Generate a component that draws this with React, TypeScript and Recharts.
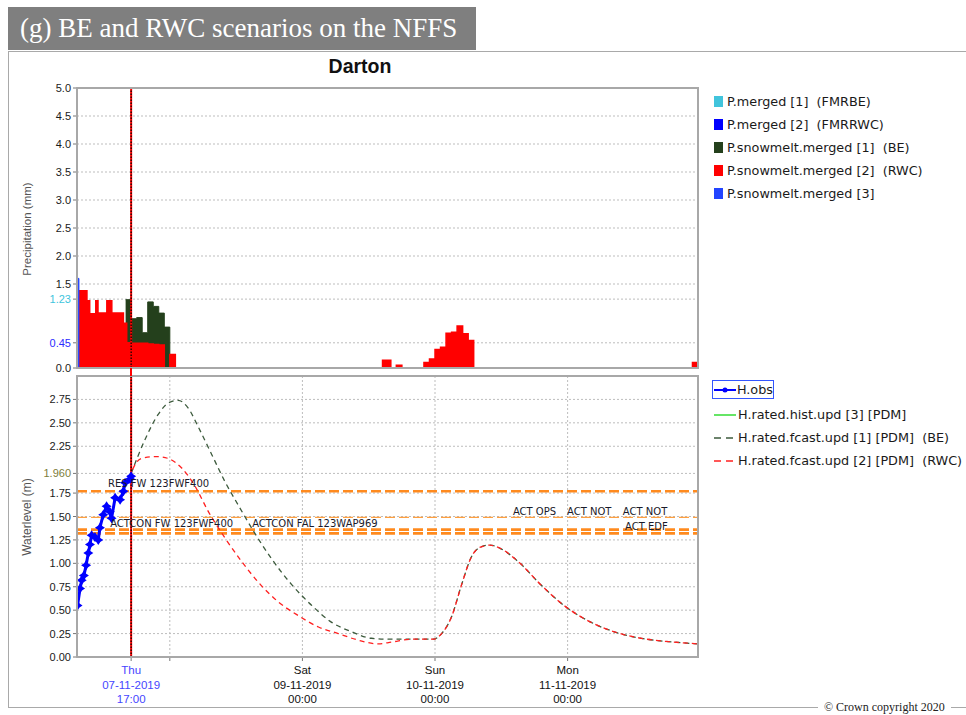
import React from "react";
import {
  Area,
  CartesianGrid,
  ComposedChart,
  Line,
  LineChart,
  ReferenceDot,
  ReferenceLine,
  XAxis,
  YAxis
} from "recharts";

// time axis: hours counted from Thu 07-11-2019 07:00
const xDomain = [0.2, 112.6];
const forecastStart = 10;
const xTickHours = [10, 17, 41, 65, 89];
const xTickDay = ["Thu", "", "Sat", "Sun", "Mon"];
const xTickDate = ["07-11-2019", "", "09-11-2019", "10-11-2019", "11-11-2019"];
const xTickTime = ["17:00", "", "00:00", "00:00", "00:00"];

const precipTicks = [0, 0.45, 1.23, 1.5, 2, 2.5, 3, 3.5, 4, 4.5, 5];
const levelTicks = [0, 0.25, 0.5, 0.75, 1, 1.25, 1.5, 1.75, 1.96, 2.25, 2.5, 2.75];

// precipitation (mm), step series
const snowmelt3 = [
  { h: 0.2, v: 1.6 },
  { h: 0.55, v: 0 }
];
const snowmeltBE = [
  { h: 9.0, v: 1.22 },
  { h: 10, v: 0.88 },
  { h: 11, v: 0.9 },
  { h: 12, v: 0.63 },
  { h: 13, v: 1.18 },
  { h: 14, v: 1.1 },
  { h: 15, v: 0.98 },
  { h: 16, v: 0.73 },
  { h: 17, v: 0 }
];
const snowmeltRWC = [
  { h: 0.55, v: 1.38 },
  { h: 2.0, v: 1.2 },
  { h: 2.5, v: 0.97 },
  { h: 3.6, v: 1.2 },
  { h: 4.0, v: 0.98 },
  { h: 5.6, v: 1.2 },
  { h: 6.5, v: 0.98 },
  { h: 8.6, v: 0.8 },
  { h: 9.2, v: 0.45 },
  { h: 10, v: 0.44 },
  { h: 11, v: 0.44 },
  { h: 12, v: 0.44 },
  { h: 13, v: 0.43 },
  { h: 14, v: 0.42 },
  { h: 15, v: 0.41 },
  { h: 16, v: 0 },
  { h: 17, v: 0.24 },
  { h: 18, v: 0 },
  { h: 55.5, v: 0.14 },
  { h: 57, v: 0 },
  { h: 58, v: 0.05 },
  { h: 59, v: 0 },
  { h: 63, v: 0.1 },
  { h: 64, v: 0.16 },
  { h: 65, v: 0.33 },
  { h: 66, v: 0.37 },
  { h: 67, v: 0.62 },
  { h: 68, v: 0.64 },
  { h: 69, v: 0.75 },
  { h: 70, v: 0.61 },
  { h: 71, v: 0.49 },
  { h: 72, v: 0 },
  { h: 111.6, v: 0.1 },
  { h: 112.6, v: 0.1 }
];

// water level (m)
const hObs = [
  { h: 0.3, v: 0.55 },
  { h: 0.75, v: 0.73 },
  { h: 1.05, v: 0.82 },
  { h: 1.45, v: 0.87 },
  { h: 1.85, v: 0.98 },
  { h: 2.25, v: 1.11 },
  { h: 2.55, v: 1.2 },
  { h: 2.85, v: 1.3 },
  { h: 3.45, v: 1.28 },
  { h: 4.05, v: 1.25 },
  { h: 4.35, v: 1.38 },
  { h: 4.95, v: 1.52 },
  { h: 5.55, v: 1.61 },
  { h: 6.15, v: 1.55 },
  { h: 6.45, v: 1.48 },
  { h: 7.1, v: 1.7 },
  { h: 8.0, v: 1.68 },
  { h: 8.6, v: 1.77 },
  { h: 8.9, v: 1.86 },
  { h: 9.8, v: 1.9 },
  { h: 10, v: 1.93 }
];
const fcastTail = [
  { h: 66.2, v: 0.25 },
  { h: 68, v: 0.43 },
  { h: 69.8, v: 0.77 },
  { h: 71.6, v: 1.07 },
  { h: 73.1, v: 1.17 },
  { h: 74.9, v: 1.195 },
  { h: 76.8, v: 1.16 },
  { h: 80.4, v: 1.0 },
  { h: 84, v: 0.78 },
  { h: 88.8, v: 0.53 },
  { h: 93.6, v: 0.36 },
  { h: 98.5, v: 0.25 },
  { h: 103.3, v: 0.19 },
  { h: 108.1, v: 0.16 },
  { h: 112.6, v: 0.14 }
];
const fcastBE = [
  { h: 10, v: 1.96 },
  { h: 12.5, v: 2.32 },
  { h: 14.9, v: 2.59 },
  { h: 16.7, v: 2.71 },
  { h: 18.5, v: 2.74 },
  { h: 20.3, v: 2.66 },
  { h: 22.2, v: 2.45 },
  { h: 24.6, v: 2.16 },
  { h: 27, v: 1.87 },
  { h: 29.4, v: 1.62 },
  { h: 32.4, v: 1.32 },
  { h: 35.4, v: 1.05 },
  { h: 39.1, v: 0.77 },
  { h: 42.7, v: 0.55 },
  { h: 46.3, v: 0.37 },
  { h: 49.9, v: 0.27 },
  { h: 53.5, v: 0.2 },
  { h: 57.2, v: 0.19 },
  { h: 60.8, v: 0.19 },
  { h: 64.7, v: 0.19 },
  ...fcastTail
];
const fcastRWC = [
  ...hObs.slice(0, -1),
  { h: 10, v: 1.96 },
  { h: 11.9, v: 2.12 },
  { h: 14.6, v: 2.14 },
  { h: 16.7, v: 2.12 },
  { h: 19.1, v: 2.02 },
  { h: 21.6, v: 1.82 },
  { h: 24, v: 1.55 },
  { h: 27, v: 1.27 },
  { h: 30, v: 1.02 },
  { h: 33, v: 0.8 },
  { h: 36.6, v: 0.59 },
  { h: 40.3, v: 0.44 },
  { h: 43.9, v: 0.32 },
  { h: 47.5, v: 0.25 },
  { h: 51.1, v: 0.18 },
  { h: 54.7, v: 0.14 },
  { h: 57.2, v: 0.16 },
  { h: 60.8, v: 0.19 },
  { h: 64.7, v: 0.19 },
  ...fcastTail
];

const thresholdLevels = [1.77, 1.49, 1.36, 1.32];
const thresholdNames = [
  "RES FW 123FWF400",
  "ACTCON FW 123FWF400",
  "ACTCON FAL 123WAP969",
  "ACT OPS",
  "ACT NOT",
  "ACT NOT",
  "ACT EDF"
];
const thresholdNameHours = [5.8, 6.2, 31.9, 79.1, 88.9, 99, 99.4];
const thresholdNameLevels = [1.85, 1.43, 1.43, 1.55, 1.55, 1.55, 1.39];

const precipLegend = [
  { name: "P.merged [1]  (FMRBE)", color: "#41c4dc" },
  { name: "P.merged [2]  (FMRRWC)", color: "#0000ff" },
  { name: "P.snowmelt.merged [1]  (BE)", color: "#24401c" },
  { name: "P.snowmelt.merged [2]  (RWC)", color: "#ff0000" },
  { name: "P.snowmelt.merged [3]", color: "#2244ff" }
];

const tickFont = "'Liberation Sans', Arial, sans-serif";
const legendFont = "'DejaVu Sans', Verdana, sans-serif";

function PrecipTick(props: any) {
  const { x, y, payload } = props;
  const v = payload.value;
  let fill = "#1a1a1a";
  let label = v.toFixed(1);
  if (v === 0.45) {
    fill = "#2b2bff";
    label = "0.45";
  }
  if (v === 1.23) {
    fill = "#3ec5dd";
    label = "1.23";
  }
  return (
    <text x={x} y={y} dy={4} textAnchor="end" fontSize={11} fontFamily={tickFont} fill={fill}>
      {label}
    </text>
  );
}

function LevelTick(props: any) {
  const { x, y, payload } = props;
  const v = payload.value;
  const special = v === 1.96;
  return (
    <text
      x={x}
      y={y}
      dy={4}
      textAnchor="end"
      fontSize={11}
      fontFamily={tickFont}
      fill={special ? "#7d7d3a" : "#1a1a1a"}
    >
      {special ? "1.960" : v.toFixed(2)}
    </text>
  );
}

function TimeTick(props: any) {
  const { x, y, payload } = props;
  const i = xTickHours.indexOf(payload.value);
  if (i < 0 || !xTickDay[i]) return <g />;
  const fill = payload.value === forecastStart ? "#4646ff" : "#111";
  return (
    <text x={x} y={y} textAnchor="middle" fontSize={11.5} fontFamily={tickFont} fill={fill}>
      <tspan x={x} dy={11}>{xTickDay[i]}</tspan>
      <tspan x={x} dy={14.5}>{xTickDate[i]}</tspan>
      <tspan x={x} dy={14.5}>{xTickTime[i]}</tspan>
    </text>
  );
}

function StarDot(props: any) {
  const { cx, cy } = props;
  if (cx == null || cy == null) return null;
  const a = 5;
  const b = 2;
  return (
    <path
      d={`M${cx},${cy - a}L${cx + b},${cy - b}L${cx + a},${cy}L${cx + b},${cy + b}L${cx},${cy + a}L${cx - b},${cy + b}L${cx - a},${cy}L${cx - b},${cy - b}Z`}
      fill="#0000ff"
    />
  );
}

const plotBorder: React.CSSProperties = {
  position: "absolute",
  left: 76,
  width: 623,
  border: "2px solid #a8a8a8",
  boxSizing: "border-box",
  pointerEvents: "none"
};

export default function App() {
  return (
    <div
      style={{
        position: "absolute",
        left: 0,
        top: 0,
        width: 966,
        height: 715,
        overflow: "hidden",
        background: "#fff"
      }}
    >
      <div
        style={{
          position: "absolute",
          left: 8,
          top: 7,
          width: 468,
          height: 43,
          background: "#7f7f7f",
          color: "#fff",
          fontFamily: "'Liberation Serif', 'Times New Roman', serif",
          fontSize: 27,
          lineHeight: "43px",
          paddingLeft: 12,
          boxSizing: "border-box",
          whiteSpace: "nowrap"
        }}
      >
        (g) BE and RWC scenarios on the NFFS
      </div>

      <div
        style={{
          position: "absolute",
          left: 8,
          top: 51,
          width: 990,
          height: 657,
          border: "1.5px solid #a9a9a9",
          boxSizing: "border-box"
        }}
      />

      <div
        style={{
          position: "absolute",
          left: 0,
          width: 720,
          top: 55,
          textAlign: "center",
          fontFamily: "'Liberation Sans', Arial, sans-serif",
          fontWeight: "bold",
          fontSize: 19.5,
          color: "#111"
        }}
      >
        Darton
      </div>

      <div
        style={{
          position: "absolute",
          left: 27,
          top: 229,
          transform: "translate(-50%, -50%) rotate(-90deg)",
          fontFamily: tickFont,
          fontSize: 11.5,
          color: "#555",
          whiteSpace: "nowrap"
        }}
      >
        Precipitation (mm)
      </div>
      <div
        style={{
          position: "absolute",
          left: 27,
          top: 517,
          transform: "translate(-50%, -50%) rotate(-90deg)",
          fontFamily: tickFont,
          fontSize: 12,
          color: "#555",
          whiteSpace: "nowrap"
        }}
      >
        Waterlevel (m)
      </div>

      <div style={{ position: "absolute", left: 0, top: 80 }}>
        <ComposedChart width={710} height={300} margin={{ top: 8, right: 12, left: 30, bottom: 12 }}>
          <CartesianGrid stroke="#bdbdbd" strokeDasharray="2 2" />
          <XAxis
            type="number"
            dataKey="h"
            domain={xDomain}
            ticks={xTickHours}
            interval={0}
            allowDataOverflow
            tick={false}
            tickLine={false}
            axisLine={false}
            height={0}
          />
          <YAxis
            type="number"
            domain={[0, 5]}
            ticks={precipTicks}
            interval={0}
            width={47}
            axisLine={false}
            tickLine={{ stroke: "#777" }}
            tickSize={4}
            tick={<PrecipTick />}
          />
          <Area
            data={snowmeltBE}
            dataKey="v"
            type="stepAfter"
            stroke="#24401c"
            strokeWidth={1}
            fill="#24401c"
            fillOpacity={1}
            isAnimationActive={false}
          />
          <Area
            data={snowmeltRWC}
            dataKey="v"
            type="stepAfter"
            stroke="#ff0000"
            strokeWidth={1.5}
            fill="#ff0000"
            fillOpacity={1}
            isAnimationActive={false}
          />
          <Area
            data={snowmelt3}
            dataKey="v"
            type="stepAfter"
            stroke="#2244ff"
            strokeWidth={1}
            fill="#2244ff"
            fillOpacity={1}
            isAnimationActive={false}
          />
          <ReferenceLine x={forecastStart} stroke="#ff0000" strokeWidth={2} />
          <ReferenceLine x={forecastStart} stroke="#000" strokeWidth={1.2} strokeDasharray="1.5 1.5" />
        </ComposedChart>
      </div>

      <div style={{ position: "absolute", left: 0, top: 368 }}>
        <LineChart width={710} height={347} margin={{ top: 8, right: 12, left: 30, bottom: 8 }}>
          <CartesianGrid stroke="#bdbdbd" strokeDasharray="2 2" />
          <XAxis
            type="number"
            dataKey="h"
            domain={xDomain}
            ticks={xTickHours}
            interval={0}
            allowDataOverflow
            tick={<TimeTick />}
            tickLine={{ stroke: "#777" }}
            tickSize={4}
            axisLine={false}
            height={50}
          />
          <YAxis
            type="number"
            domain={[0, 3]}
            ticks={levelTicks}
            interval={0}
            width={47}
            axisLine={false}
            tickLine={{ stroke: "#777" }}
            tickSize={4}
            tick={<LevelTick />}
          />
          {thresholdLevels.map((lv) => (
            <ReferenceLine
              key={lv}
              y={lv}
              stroke={lv === 1.49 ? "#ffa040" : "#ff8a1e"}
              strokeWidth={lv === 1.49 ? 1.2 : 2.6}
              strokeDasharray="10 4"
            />
          ))}
          {thresholdNames.map((name, i) => (
            <ReferenceDot
              key={name + i}
              x={thresholdNameHours[i]}
              y={thresholdNameLevels[i]}
              r={0}
              fill="none"
              stroke="none"
              label={{
                value: name,
                position: "right",
                offset: 0,
                fill: "#1a1a2a",
                fontSize: 10,
                fontFamily: legendFont
              }}
            />
          ))}
          <Line
            data={fcastBE}
            dataKey="v"
            type="monotone"
            stroke="#3d5b3d"
            strokeWidth={1.3}
            strokeDasharray="5 4"
            dot={false}
            isAnimationActive={false}
          />
          <Line
            data={fcastRWC}
            dataKey="v"
            type="monotone"
            stroke="#ff2020"
            strokeWidth={1.3}
            strokeDasharray="5 4"
            dot={false}
            isAnimationActive={false}
          />
          <Line
            data={hObs}
            dataKey="v"
            type="linear"
            stroke="#0000ff"
            strokeWidth={3}
            dot={<StarDot />}
            isAnimationActive={false}
          />
          <ReferenceLine x={forecastStart} stroke="#ff0000" strokeWidth={2} />
          <ReferenceLine x={forecastStart} stroke="#000" strokeWidth={1.2} strokeDasharray="1.5 1.5" />
        </LineChart>
      </div>

      <div style={{ ...plotBorder, top: 87, height: 282 }} />
      <div style={{ ...plotBorder, top: 375, height: 283 }} />
      <div
        style={{
          position: "absolute",
          left: 130,
          top: 368,
          width: 2,
          height: 8,
          background: "#ff0000"
        }}
      />

      <div style={{ position: "absolute", left: 714, top: 90, fontFamily: legendFont, fontSize: 12.8, color: "#1a1a1a" }}>
        {precipLegend.map((item) => (
          <div key={item.name} style={{ display: "flex", alignItems: "center", height: 23, whiteSpace: "pre" }}>
            <span style={{ display: "inline-block", width: 9, height: 11, background: item.color, marginRight: 4 }} />
            {item.name}
          </div>
        ))}
      </div>

      <div style={{ position: "absolute", left: 712, top: 380, fontFamily: legendFont, fontSize: 12.8, color: "#1a1a1a" }}>
        <div
          style={{
            display: "flex",
            alignItems: "center",
            height: 19,
            border: "1.5px solid #3355ff",
            width: 62,
            boxSizing: "border-box",
            marginBottom: 4
          }}
        >
          <svg width={24} height={10}>
            <line x1={1} y1={5} x2={23} y2={5} stroke="#0000ff" strokeWidth={2} />
            <circle cx={12} cy={5} r={2.5} fill="#0000ff" />
          </svg>
          <span>H.obs</span>
        </div>
        <div style={{ display: "flex", alignItems: "center", height: 23, whiteSpace: "pre" }}>
          <svg width={26} height={10}>
            <line x1={2} y1={5} x2={24} y2={5} stroke="#33dd33" strokeWidth={1.5} />
          </svg>
          {"H.rated.hist.upd [3] [PDM]"}
        </div>
        <div style={{ display: "flex", alignItems: "center", height: 23, whiteSpace: "pre" }}>
          <svg width={26} height={10}>
            <line x1={2} y1={5} x2={24} y2={5} stroke="#3d5b3d" strokeWidth={1.5} strokeDasharray="7 5" />
          </svg>
          {"H.rated.fcast.upd [1] [PDM]  (BE)"}
        </div>
        <div style={{ display: "flex", alignItems: "center", height: 23, whiteSpace: "pre" }}>
          <svg width={26} height={10}>
            <line x1={2} y1={5} x2={24} y2={5} stroke="#ff2020" strokeWidth={1.5} strokeDasharray="7 5" />
          </svg>
          {"H.rated.fcast.upd [2] [PDM]  (RWC)"}
        </div>
      </div>

      <div
        style={{
          position: "absolute",
          left: 818,
          top: 699,
          padding: "0 6px",
          background: "#fff",
          fontFamily: "'Liberation Serif', 'Times New Roman', serif",
          fontSize: 12,
          lineHeight: "16px",
          color: "#222",
          whiteSpace: "nowrap"
        }}
      >
        © Crown copyright 2020
      </div>
    </div>
  );
}
